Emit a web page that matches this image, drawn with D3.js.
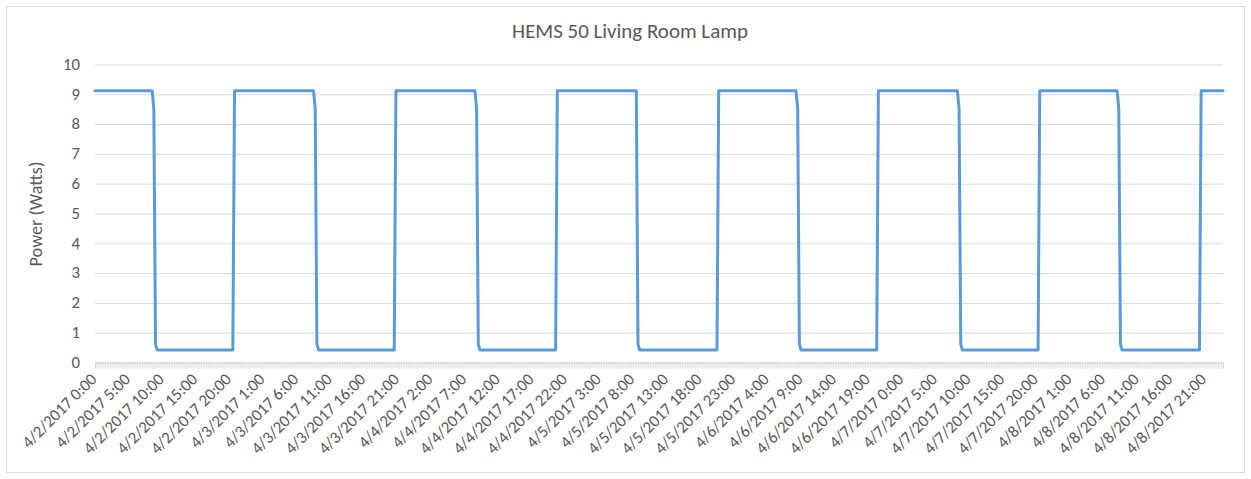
<!DOCTYPE html>
<html>
<head>
<meta charset="utf-8">
<script src="https://cdn.jsdelivr.net/npm/d3@7"></script>
<style>
  html, body { margin: 0; padding: 0; background: #fff; }
  svg { display: block; }
  text { font-family: Calibri, Carlito, Lato, "Liberation Sans", sans-serif; fill: #595959; }
</style>
</head>
<body>
<svg id="chart" width="1251" height="479"></svg>
<script>
// ---- DATA (15-minute readings, Power in Watts) ----
const chartTitle = "HEMS 50 Living Room Lamp";
const yTitle = "Power (Watts)";
const startTime = new Date(2017, 3, 2, 0, 0);   // 4/2/2017 0:00
const stepMinutes = 15;

const power_0402 = [
  9.1,9.1,9.1,9.1,9.1,9.1,9.1,9.1,9.1,9.1,9.1,9.1,
  9.1,9.1,9.1,9.1,9.1,9.1,9.1,9.1,9.1,9.1,9.1,9.1,
  9.1,9.1,9.1,9.1,9.1,9.1,9.1,9.1,9.1,9.1,9.1,8.5,
  0.6,0.4,0.4,0.4,0.4,0.4,0.4,0.4,0.4,0.4,0.4,0.4,
  0.4,0.4,0.4,0.4,0.4,0.4,0.4,0.4,0.4,0.4,0.4,0.4,
  0.4,0.4,0.4,0.4,0.4,0.4,0.4,0.4,0.4,0.4,0.4,0.4,
  0.4,0.4,0.4,0.4,0.4,0.4,0.4,0.4,0.4,0.4,0.4,9.1,
  9.1,9.1,9.1,9.1,9.1,9.1,9.1,9.1,9.1,9.1,9.1,9.1
];
const power_0403 = [
  9.1,9.1,9.1,9.1,9.1,9.1,9.1,9.1,9.1,9.1,9.1,9.1,
  9.1,9.1,9.1,9.1,9.1,9.1,9.1,9.1,9.1,9.1,9.1,9.1,
  9.1,9.1,9.1,9.1,9.1,9.1,9.1,9.1,9.1,9.1,9.1,8.5,
  0.6,0.4,0.4,0.4,0.4,0.4,0.4,0.4,0.4,0.4,0.4,0.4,
  0.4,0.4,0.4,0.4,0.4,0.4,0.4,0.4,0.4,0.4,0.4,0.4,
  0.4,0.4,0.4,0.4,0.4,0.4,0.4,0.4,0.4,0.4,0.4,0.4,
  0.4,0.4,0.4,0.4,0.4,0.4,0.4,0.4,0.4,0.4,0.4,9.1,
  9.1,9.1,9.1,9.1,9.1,9.1,9.1,9.1,9.1,9.1,9.1,9.1
];
const power_0404 = [
  9.1,9.1,9.1,9.1,9.1,9.1,9.1,9.1,9.1,9.1,9.1,9.1,
  9.1,9.1,9.1,9.1,9.1,9.1,9.1,9.1,9.1,9.1,9.1,9.1,
  9.1,9.1,9.1,9.1,9.1,9.1,9.1,9.1,9.1,9.1,9.1,8.5,
  0.6,0.4,0.4,0.4,0.4,0.4,0.4,0.4,0.4,0.4,0.4,0.4,
  0.4,0.4,0.4,0.4,0.4,0.4,0.4,0.4,0.4,0.4,0.4,0.4,
  0.4,0.4,0.4,0.4,0.4,0.4,0.4,0.4,0.4,0.4,0.4,0.4,
  0.4,0.4,0.4,0.4,0.4,0.4,0.4,0.4,0.4,0.4,0.4,9.1,
  9.1,9.1,9.1,9.1,9.1,9.1,9.1,9.1,9.1,9.1,9.1,9.1
];
const power_0405 = [
  9.1,9.1,9.1,9.1,9.1,9.1,9.1,9.1,9.1,9.1,9.1,9.1,
  9.1,9.1,9.1,9.1,9.1,9.1,9.1,9.1,9.1,9.1,9.1,9.1,
  9.1,9.1,9.1,9.1,9.1,9.1,9.1,9.1,9.1,9.1,9.1,0.6,
  0.4,0.4,0.4,0.4,0.4,0.4,0.4,0.4,0.4,0.4,0.4,0.4,
  0.4,0.4,0.4,0.4,0.4,0.4,0.4,0.4,0.4,0.4,0.4,0.4,
  0.4,0.4,0.4,0.4,0.4,0.4,0.4,0.4,0.4,0.4,0.4,0.4,
  0.4,0.4,0.4,0.4,0.4,0.4,0.4,0.4,0.4,0.4,0.4,9.1,
  9.1,9.1,9.1,9.1,9.1,9.1,9.1,9.1,9.1,9.1,9.1,9.1
];
const power_0406 = [
  9.1,9.1,9.1,9.1,9.1,9.1,9.1,9.1,9.1,9.1,9.1,9.1,
  9.1,9.1,9.1,9.1,9.1,9.1,9.1,9.1,9.1,9.1,9.1,9.1,
  9.1,9.1,9.1,9.1,9.1,9.1,9.1,9.1,9.1,9.1,8.5,0.6,
  0.4,0.4,0.4,0.4,0.4,0.4,0.4,0.4,0.4,0.4,0.4,0.4,
  0.4,0.4,0.4,0.4,0.4,0.4,0.4,0.4,0.4,0.4,0.4,0.4,
  0.4,0.4,0.4,0.4,0.4,0.4,0.4,0.4,0.4,0.4,0.4,0.4,
  0.4,0.4,0.4,0.4,0.4,0.4,0.4,0.4,0.4,0.4,9.1,9.1,
  9.1,9.1,9.1,9.1,9.1,9.1,9.1,9.1,9.1,9.1,9.1,9.1
];
const power_0407 = [
  9.1,9.1,9.1,9.1,9.1,9.1,9.1,9.1,9.1,9.1,9.1,9.1,
  9.1,9.1,9.1,9.1,9.1,9.1,9.1,9.1,9.1,9.1,9.1,9.1,
  9.1,9.1,9.1,9.1,9.1,9.1,9.1,9.1,9.1,9.1,8.5,0.6,
  0.4,0.4,0.4,0.4,0.4,0.4,0.4,0.4,0.4,0.4,0.4,0.4,
  0.4,0.4,0.4,0.4,0.4,0.4,0.4,0.4,0.4,0.4,0.4,0.4,
  0.4,0.4,0.4,0.4,0.4,0.4,0.4,0.4,0.4,0.4,0.4,0.4,
  0.4,0.4,0.4,0.4,0.4,0.4,0.4,0.4,0.4,0.4,9.1,9.1,
  9.1,9.1,9.1,9.1,9.1,9.1,9.1,9.1,9.1,9.1,9.1,9.1
];
const power_0408 = [
  9.1,9.1,9.1,9.1,9.1,9.1,9.1,9.1,9.1,9.1,9.1,9.1,
  9.1,9.1,9.1,9.1,9.1,9.1,9.1,9.1,9.1,9.1,9.1,9.1,
  9.1,9.1,9.1,9.1,9.1,9.1,9.1,9.1,9.1,8.5,0.6,0.4,
  0.4,0.4,0.4,0.4,0.4,0.4,0.4,0.4,0.4,0.4,0.4,0.4,
  0.4,0.4,0.4,0.4,0.4,0.4,0.4,0.4,0.4,0.4,0.4,0.4,
  0.4,0.4,0.4,0.4,0.4,0.4,0.4,0.4,0.4,0.4,0.4,0.4,
  0.4,0.4,0.4,0.4,0.4,0.4,0.4,0.4,0.4,0.4,9.1,9.1,
  9.1,9.1,9.1,9.1,9.1,9.1,9.1,9.1,9.1,9.1,9.1,9.1
];

const yTicks = [0,1,2,3,4,5,6,7,8,9,10];
const tickLabels = [
  "4/2/2017 0:00","4/2/2017 5:00","4/2/2017 10:00","4/2/2017 15:00","4/2/2017 20:00",
  "4/3/2017 1:00","4/3/2017 6:00","4/3/2017 11:00","4/3/2017 16:00","4/3/2017 21:00",
  "4/4/2017 2:00","4/4/2017 7:00","4/4/2017 12:00","4/4/2017 17:00","4/4/2017 22:00",
  "4/5/2017 3:00","4/5/2017 8:00","4/5/2017 13:00","4/5/2017 18:00","4/5/2017 23:00",
  "4/6/2017 4:00","4/6/2017 9:00","4/6/2017 14:00","4/6/2017 19:00",
  "4/7/2017 0:00","4/7/2017 5:00","4/7/2017 10:00","4/7/2017 15:00","4/7/2017 20:00",
  "4/8/2017 1:00","4/8/2017 6:00","4/8/2017 11:00","4/8/2017 16:00","4/8/2017 21:00"
];

// ---- BUILD ----
const FONT = "Calibri, Carlito, Lato, 'Liberation Sans', sans-serif";
const values = [].concat(power_0402, power_0403, power_0404, power_0405, power_0406, power_0407, power_0408);
const fmt = d => `${d.getMonth()+1}/${d.getDate()}/${d.getFullYear()} ${d.getHours()}:${String(d.getMinutes()).padStart(2,"0")}`;
const endTime = new Date(startTime.getTime() + values.length * stepMinutes * 60000);
const categories = d3.timeMinute.every(stepMinutes).range(startTime, endTime).map(fmt);
const data = categories.map((c, i) => ({ cat: c, val: values[i] }));

const svg = d3.select("#chart");
const plot = { left: 95, right: 1223, top: 64, bottom: 362 };

// size a font so that a sample string reaches the length measured on the reference
function fitSize(sample, targetLen) {
  const t = svg.append("text").attr("font-size", 100).style("font-family", FONT).text(sample);
  const len = t.node().getComputedTextLength();
  t.remove();
  return 100 * targetLen / len;
}
const axisSize = fitSize("4/8/2017 21:00", 106);
const yTitleSize = fitSize(yTitle, 105);
const titleSize = fitSize(chartTitle, 236);

// outer chart border
svg.append("rect").attr("x", 6.5).attr("y", 6.5).attr("width", 1238).attr("height", 466)
  .attr("fill", "#fff").attr("stroke", "#d9d9d9").attr("stroke-width", 1);

const x = d3.scalePoint().domain(categories).range([plot.left, plot.right]);
const y = d3.scaleLinear().domain([0, 10]).range([plot.bottom, plot.top]);

// gridlines + y labels
const yAxis = d3.axisLeft(y).tickValues(yTicks).tickSize(-(plot.right - plot.left)).tickPadding(15).tickFormat(d3.format("d"));
const gy = svg.append("g").attr("transform", `translate(${plot.left},0)`).call(yAxis);
gy.select(".domain").remove();
gy.selectAll(".tick line").attr("stroke", "#d9d9d9").attr("stroke-width", 1)
  .attr("transform", "translate(0,0.5)");
gy.selectAll(".tick text").attr("font-size", axisSize).attr("fill", "#595959")
  .style("font-family", FONT);

// category tick marks (one per category)
const xMinor = d3.axisBottom(x).tickValues(categories).tickSize(6).tickFormat("");
const gxm = svg.append("g").attr("transform", `translate(0,${plot.bottom + 0.5})`).call(xMinor);
gxm.select(".domain").attr("stroke", "#d9d9d9");
gxm.selectAll(".tick line").attr("stroke", "#d9d9d9").attr("stroke-width", 0.8);

// labeled ticks
const xAxis = d3.axisBottom(x).tickValues(tickLabels).tickSize(0).tickPadding(0);
const gx = svg.append("g").attr("transform", `translate(0,${plot.bottom})`).call(xAxis);
gx.select(".domain").remove();
gx.selectAll(".tick text")
  .attr("font-size", axisSize).attr("fill", "#595959")
  .style("font-family", FONT)
  .attr("text-anchor", "end")
  .attr("x", 0).attr("y", 0).attr("dy", "0.35em")
  .attr("transform", "translate(-2,14) rotate(-45)");

// line
const line = d3.line().x(d => x(d.cat)).y(d => y(d.val));
svg.append("path").datum(data).attr("d", line)
  .attr("fill", "none").attr("stroke", "#5b9bd5").attr("stroke-width", 3)
  .attr("stroke-linejoin", "round").attr("stroke-linecap", "round");

// titles
svg.append("text").attr("x", 630).attr("y", 38).attr("text-anchor", "middle")
  .attr("font-size", titleSize).attr("fill", "#595959").style("font-family", FONT).text(chartTitle);
svg.append("text").attr("transform", `translate(42,214) rotate(-90)`).attr("text-anchor", "middle")
  .attr("font-size", yTitleSize).attr("fill", "#595959").style("font-family", FONT).text(yTitle);
</script>
</body>
</html>
